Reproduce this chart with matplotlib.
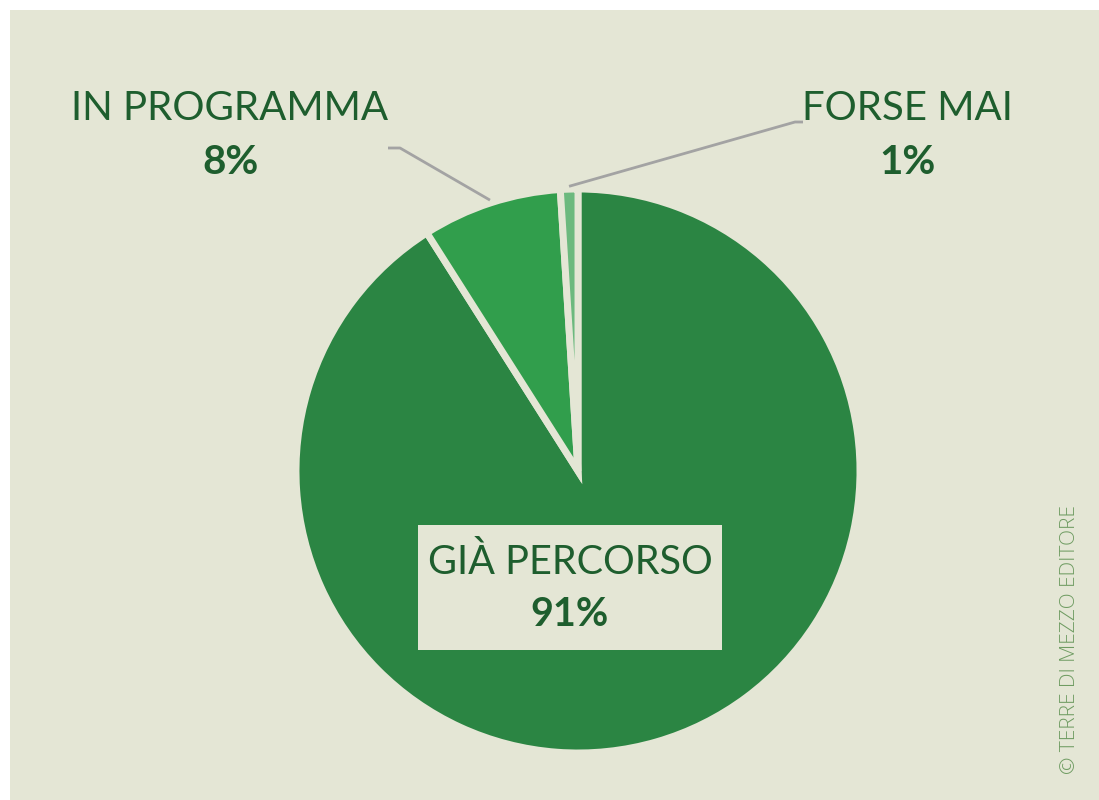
import numpy as np
import matplotlib.pyplot as plt
from matplotlib.patches import Rectangle

labels = ["GIÀ PERCORSO", "IN PROGRAMMA", "FORSE MAI"]
values = [91, 8, 1]
colors = ["#2b8543", "#319e4c", "#6cb97e"]

bg = "#e4e6d5"
txt = "#1e5e2e"
line_col = "#a3a3a3"
font = "Lato"

W, H = 1099, 800
fig = plt.figure(figsize=(W / 100, H / 100), dpi=100)
fig.patch.set_facecolor("white")
fig.patches.append(Rectangle((10 / W, 0), 1, 1 - 10 / H, transform=fig.transFigure,
                             facecolor=bg, edgecolor="none", zorder=-5))

# pie axes: centre (578, 471) px, radius ~282 px
cx, cy, r = 578, 471, 282
ax = fig.add_axes([(cx - r) / W, (H - cy - r) / H, 2 * r / W, 2 * r / H])

wedges, _ = ax.pie(values, colors=colors, startangle=90, counterclock=False, radius=1,
                   wedgeprops=dict(edgecolor=bg, linewidth=5))
ax.set_xlim(-1, 1)
ax.set_ylim(-1, 1)
ax.axis("off")


def d(px, py):
    return ((px - cx) / r, (cy - py) / r)


# main label box
x0, y0 = d(418, 650)
x1, y1 = d(722, 525)
ax.add_patch(Rectangle((x0, y0), x1 - x0, y1 - y0, facecolor=bg, edgecolor="none", zorder=5))
ax.text(*d(570, 562), labels[0], ha="center", va="center", fontsize=28.5,
        color=txt, family=font, zorder=6)
ax.text(*d(570, 615), f"{values[0]}%", ha="center", va="center", fontsize=28.5,
        color=txt, family=font, fontweight="bold", zorder=6)

# outside labels with leader lines
for i, (tx, elbow, end) in zip([1, 2], [(230, (400, 148), (388, 148)),
                                        (907, (795, 122), (803, 122))]):
    w = wedges[i]
    mid = np.deg2rad((w.theta1 + w.theta2) / 2)
    rr = 1.01
    pts = [(rr * np.cos(mid), rr * np.sin(mid)), d(*elbow), d(*end)]
    ax.plot([p[0] for p in pts], [p[1] for p in pts], color=line_col, lw=2,
            clip_on=False, solid_capstyle="butt")
    ax.text(*d(tx, 108), labels[i], ha="center", va="center", fontsize=29,
            color=txt, family=font, clip_on=False)
    ax.text(*d(tx, 163), f"{values[i]}%", ha="center", va="center", fontsize=29,
            color=txt, family=font, fontweight="bold", clip_on=False)

fig.text(1070 / W, 1 - 640 / H, "© TERRE DI MEZZO EDITORE", rotation=90,
         ha="center", va="center", fontsize=15, color="#6f9c62", family="Open Sans",
         fontweight="light")

fig.savefig("out.png", dpi=100, facecolor=fig.get_facecolor())
